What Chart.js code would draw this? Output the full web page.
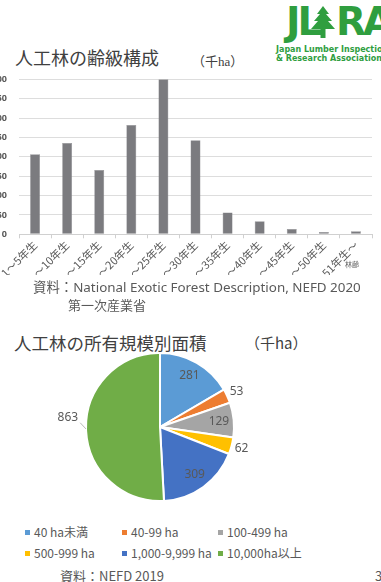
<!DOCTYPE html>
<html>
<head>
<meta charset="utf-8">
<script src="https://cdn.jsdelivr.net/npm/chart.js@4.4.1/dist/chart.umd.min.js"></script>
<style>
  body { margin: 0; width: 381px; height: 582px; background: #fff; position: relative; overflow: hidden;
         font-family: "Noto Sans CJK JP", "Noto Sans", sans-serif; color: #595959; }
  .abs { position: absolute; white-space: nowrap; }
  #barWrap { position: absolute; left: -20px; top: 62px; width: 401px; height: 213px; }
  #pieWrap { position: absolute; left: 0; top: 347px; width: 320px; height: 160px; }
  .logo { color: #2f9e3f; font-family: "DejaVu Sans", sans-serif; font-weight: bold; }
  .leg { position: absolute; font-size: 12px; color: #595959; white-space: nowrap; line-height: 14px; }
  .leg i { display: inline-block; width: 5px; height: 5px; margin-right: 4px; vertical-align: 2px; }
</style>
</head>
<body>
<!-- logo -->
<div class="abs logo" style="left:286px;top:2px;font-size:39px;letter-spacing:-3px;line-height:40px;">JL</div>
<svg class="abs" style="left:309px;top:6px" width="28" height="34" viewBox="0 0 28 34">
  <polygon fill="#2f9e3f" points="14,0 20,8 17,8 23,15 19,15 26,23 2,23 9,15 5,15 11,8 8,8"/>
  <rect fill="#2f9e3f" x="11.5" y="22" width="5" height="10"/>
</svg>
<div class="abs logo" style="left:336px;top:2px;font-size:39px;letter-spacing:-3px;line-height:40px;">RA</div>
<div class="abs logo" style="left:276px;top:46px;font-size:8px;line-height:8px;">Japan Lumber Inspection</div>
<div class="abs logo" style="left:276px;top:55px;font-size:8px;line-height:8px;">&amp; Research Association</div>

<!-- bar chart titles -->
<div class="abs" style="left:15px;top:44px;font-size:18px;color:#404040;">人工林の齢級構成</div>
<div class="abs" style="left:192px;top:51px;font-size:13px;color:#404040;font-family:'Liberation Serif','Noto Sans CJK JP',serif;">（千ha）</div>
<div id="barWrap"><canvas id="barChart"></canvas></div>
<div class="abs" style="left:345px;top:259px;font-size:7px;color:#595959;">林齢</div>
<div class="abs" style="left:33px;top:276px;font-size:13.4px;font-family:'Noto Sans','Noto Sans CJK JP',sans-serif;">資料：National Exotic Forest Description, NEFD 2020</div>
<div class="abs" style="left:68px;top:295px;font-size:13px;">第一次産業省</div>

<!-- pie chart -->
<div class="abs" style="left:14px;top:330px;font-size:17.5px;color:#404040;">人工林の所有規模別面積</div>
<div class="abs" style="left:245px;top:332px;font-size:15px;color:#404040;">（千ha）</div>
<div id="pieWrap"><canvas id="pieChart"></canvas></div>
<div id="legend"></div>
<div class="abs" style="left:60px;top:566px;font-size:13px;">資料：NEFD 2019</div>
<div class="abs" style="left:375px;top:566px;font-size:13px;">3</div>

<script>
// age class chart (thousand ha)
var ageLabels = ['1～5年生', '～10年生', '～15年生', '～20年生', '～25年生', '～30年生',
                 '～35年生', '～40年生', '～45年生', '～50年生', '51年生～'];
var ageValues = [207, 236, 166, 282, 401, 243, 56, 34, 14, 6, 8];
var ageTicks = [0, 50, 100, 150, 200, 250, 300, 350, 400];

// ownership size chart (thousand ha)
var sizeLabels = ['40 ha未満', '40-99 ha', '100-499 ha', '500-999 ha', '1,000-9,999 ha', '10,000ha以上'];
var sizeValues = [281, 53, 129, 62, 309, 863];
var sizeColours = ['#5B9BD5', '#ED7D31', '#A5A5A5', '#FFC000', '#4472C4', '#70AD47'];

new Chart(document.getElementById('barChart'), {
    type: 'bar',
    data: {
        labels: ageLabels,
        datasets: [{
            data: ageValues,
            backgroundColor: '#7B7B7F',
            borderColor: '#8a8a8e',
            borderWidth: 0.5,
            barPercentage: 0.62,
            categoryPercentage: 0.5
        }]
    },
    options: {
        responsive: true,
        maintainAspectRatio: false,
        animation: false,
        layout: { padding: { top: 1, right: 9, left: 0, bottom: 0 } },
        plugins: { legend: { display: false }, tooltip: { enabled: false } },
        scales: {
            x: {
                grid: { drawOnChartArea: false, drawTicks: true, tickLength: 4, color: '#D0D0D0', offset: true },
                border: { color: '#D0D0D0' },
                ticks: { minRotation: 45, maxRotation: 45, autoSkip: false, color: '#595959', padding: 0,
                         font: { size: 11, family: 'Noto Sans CJK JP' } },
                afterFit: function(scale) { scale.height = 40.7; }
            },
            y: {
                min: 0, max: 400,
                afterBuildTicks: function(scale) { scale.ticks = ageTicks.map(function(v) { return { value: v }; }); },
                grid: { color: '#DDDDDD', drawTicks: false },
                border: { display: false },
                ticks: { color: '#595959', padding: 12, font: { size: 9, weight: 'bold', family: 'Noto Sans' } },
                afterFit: function(scale) { scale.width = 39; }
            }
        }
    }
});

// draws the value labels around/inside the pie, like Excel does
var pieLabels = {
    id: 'pieLabels',
    afterDatasetsDraw: function(chart) {
        var ctx = chart.ctx;
        var arcs = chart.getDatasetMeta(0).data;
        ctx.save();
        ctx.font = '12px "Noto Sans", sans-serif';
        ctx.fillStyle = '#595959';
        ctx.textBaseline = 'middle';
        arcs.forEach(function(arc, i) {
            var mid = (arc.startAngle + arc.endAngle) / 2;
            var r = arc.outerRadius;
            var value = String(sizeValues[i]);
            var small = sizeValues[i] < 100;
            var big = sizeValues[i] > 800;
            if (big) {
                var a2 = mid + 0.08;
                var x1 = arc.x + Math.cos(mid) * r, y1 = arc.y + Math.sin(mid) * r;
                var x2 = arc.x + Math.cos(a2) * r * 1.08, y2 = arc.y + Math.sin(a2) * r * 1.08;
                ctx.strokeStyle = '#A6A6A6';
                ctx.lineWidth = 0.8;
                ctx.beginPath(); ctx.moveTo(x1, y1); ctx.lineTo(x2, y2); ctx.stroke();
                ctx.textAlign = 'right';
                ctx.fillText(value, x2 - 2, y2 - 5);
            } else {
                var k = small ? 1.14 : 0.8;
                ctx.textAlign = 'center';
                ctx.fillText(value, arc.x + Math.cos(mid) * r * k, arc.y + Math.sin(mid) * r * k);
            }
        });
        ctx.restore();
    }
};

new Chart(document.getElementById('pieChart'), {
    type: 'pie',
    data: {
        labels: sizeLabels,
        datasets: [{
            data: sizeValues,
            backgroundColor: sizeColours,
            borderColor: '#ffffff',
            borderWidth: 2
        }]
    },
    options: {
        responsive: true,
        maintainAspectRatio: false,
        animation: false,
        layout: { padding: 5 },
        plugins: { legend: { display: false }, tooltip: { enabled: false } }
    },
    plugins: [pieLabels]
});

// legend in two rows of three, Excel style
var legendX = [25, 122, 218];
var legendY = [525, 546];
var legendHTML = '';
sizeLabels.forEach(function(name, i) {
    legendHTML += '<div class="leg" style="left:' + legendX[i % 3] + 'px;top:' + legendY[Math.floor(i / 3)] + 'px">' +
        '<i style="background:' + sizeColours[i] + '"></i>' + name + '</div>';
});
document.getElementById('legend').innerHTML = legendHTML;
</script>
</body>
</html>
